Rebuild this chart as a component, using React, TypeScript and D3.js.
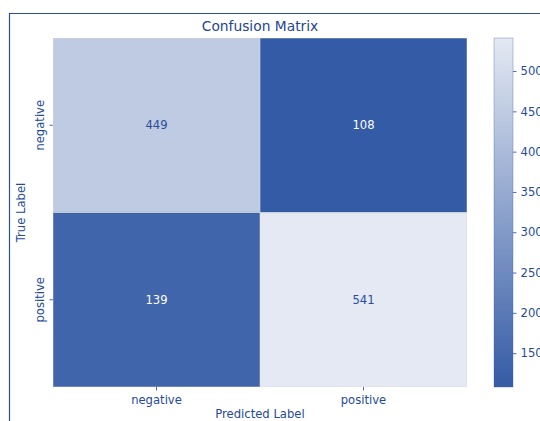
import React, { useEffect, useRef } from 'react'
import * as d3 from 'd3'

const classes = ['negative', 'positive']
const counts = [
  [449, 108],
  [139, 541],
]
const cbarTicks = [150, 200, 250, 300, 350, 400, 450, 500]

export default function App() {
  const svgRef = useRef<SVGSVGElement>(null)

  useEffect(() => {
    if (!svgRef.current) return
    const width = 540
    const height = 421
    const ink = '#254a98'
    const font = 'DejaVu Sans, sans-serif'
    const fs = 11.6
    const left = 53, right = 467, top = 38, bottom = 387

    const svg = d3.select(svgRef.current)
    svg.selectAll('*').remove()
    svg.attr('width', width).attr('height', height)
      .style('display', 'block').style('background', '#fff')
      .style('font-family', font)

    // outer frame
    svg.append('path')
      .attr('d', `M9.5,${height} L9.5,13.5 L${width},13.5`)
      .attr('fill', 'none').attr('stroke', '#2d4f98').attr('stroke-width', 1.2)

    const flat = counts.flat()
    const color = d3.scaleLinear<string>()
      .domain([d3.min(flat)!, d3.max(flat)!])
      .range(['#345ba5', '#e4e9f3'])
      .interpolate(d3.interpolateRgb)

    const x = d3.scaleBand().domain(classes).range([left, right])
    const y = d3.scaleBand().domain(classes).range([top, bottom])

    const cells = counts.flatMap((row, i) => row.map((v, j) => ({ t: classes[i], p: classes[j], v })))

    svg.append('g').selectAll('rect').data(cells).join('rect')
      .attr('x', d => x(d.p)! + 0.5)
      .attr('y', d => y(d.t)! + 0.5)
      .attr('width', x.bandwidth() - 1)
      .attr('height', y.bandwidth() - 1)
      .attr('fill', d => color(d.v))
      .attr('stroke', d => d3.color(color(d.v))!.darker(0.25).formatHex())
      .attr('stroke-opacity', 0.5)
      .attr('stroke-width', 1)

    svg.append('g').selectAll('text').data(cells).join('text')
      .attr('x', d => x(d.p)! + x.bandwidth() / 2)
      .attr('y', d => y(d.t)! + y.bandwidth() / 2)
      .attr('dy', '0.35em')
      .attr('text-anchor', 'middle')
      .attr('font-size', fs)
      .attr('fill', d => d.v < 300 ? '#ffffff' : '#2a4c9c')
      .text(d => d.v)

    // x axis
    const gx = svg.append('g')
    classes.forEach(c => {
      const cx = x(c)! + x.bandwidth() / 2
      gx.append('line').attr('x1', cx).attr('x2', cx).attr('y1', bottom).attr('y2', bottom + 3.5)
        .attr('stroke', ink).attr('stroke-width', 0.8)
      gx.append('text').attr('x', cx).attr('y', bottom + 17).attr('text-anchor', 'middle')
        .attr('font-size', fs).attr('fill', ink).text(c)
    })
    svg.append('text').attr('x', (left + right) / 2).attr('y', bottom + 31)
      .attr('text-anchor', 'middle').attr('font-size', fs).attr('fill', ink).text('Predicted Label')

    // y axis
    const gy = svg.append('g')
    classes.forEach(c => {
      const cy = y(c)! + y.bandwidth() / 2
      gy.append('line').attr('x1', left - 3.5).attr('x2', left).attr('y1', cy).attr('y2', cy)
        .attr('stroke', ink).attr('stroke-width', 0.8)
      gy.append('text').attr('transform', `translate(${left - 9},${cy}) rotate(-90)`)
        .attr('text-anchor', 'middle').attr('font-size', fs).attr('fill', ink).text(c)
    })
    svg.append('text').attr('transform', `translate(25,${(top + bottom) / 2}) rotate(-90)`)
      .attr('text-anchor', 'middle').attr('font-size', fs).attr('fill', ink).text('True Label')

    // title
    svg.append('text').attr('x', (left + right) / 2).attr('y', 31)
      .attr('text-anchor', 'middle').attr('font-size', 13.8).attr('fill', '#1f4590').text('Confusion Matrix')

    // colorbar
    const cbX = 494, cbW = 19
    const cbScale = d3.scaleLinear().domain(color.domain()).range([bottom, top])
    const defs = svg.append('defs')
    const grad = defs.append('linearGradient').attr('id', 'cbgrad')
      .attr('x1', 0).attr('x2', 0).attr('y1', 1).attr('y2', 0)
    d3.range(0, 1.01, 0.1).forEach(t => {
      grad.append('stop').attr('offset', t)
        .attr('stop-color', color(color.domain()[0] + t * (color.domain()[1] - color.domain()[0])))
    })
    svg.append('rect').attr('x', cbX).attr('y', top).attr('width', cbW).attr('height', bottom - top)
      .attr('fill', 'url(#cbgrad)').attr('stroke', '#3a5ea6').attr('stroke-opacity', 0.35)
    const cb = svg.append('g').attr('transform', `translate(${cbX + cbW},0)`)
      .call(d3.axisRight(cbScale).tickValues(cbarTicks).tickSize(3.5).tickPadding(4))
    cb.select('.domain').remove()
    cb.selectAll('line').attr('stroke', ink).attr('stroke-width', 0.8)
    cb.selectAll('text').attr('fill', ink).attr('font-size', fs).attr('font-family', font)
  }, [])

  return <svg ref={svgRef} style={{ position: 'absolute', left: 0, top: 0 }} />
}
